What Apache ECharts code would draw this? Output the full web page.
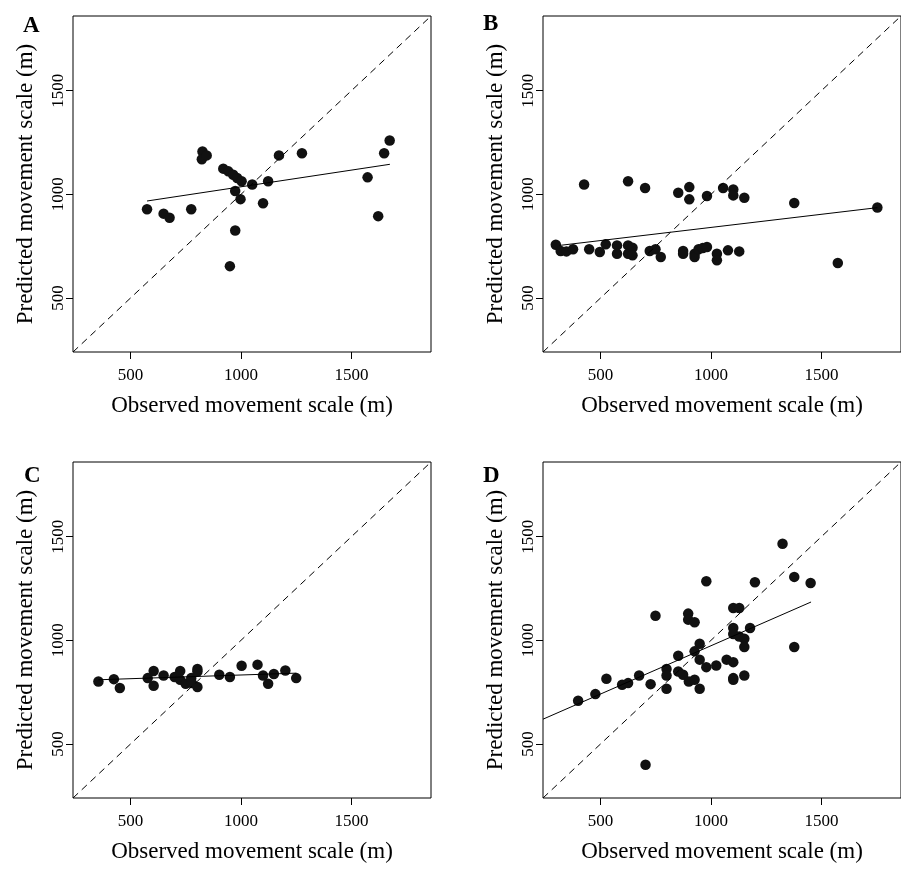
<!DOCTYPE html>
<html>
<head>
<meta charset="utf-8">
<script src="https://cdn.jsdelivr.net/npm/echarts@6/dist/echarts.min.js"></script>
<style>
  html, body { margin: 0; padding: 0; background: #fff; }
  #chart { width: 901px; height: 869px; }
</style>
</head>
<body>
<div id="chart"></div>
<script>
// axis range and ticks (R style, 4% padding around 300..1800)
const axisMin = 240
const axisMax = 1860
const tickValues = [500, 1000, 1500]
const oneToOne = [axisMin, axisMax]

// panel A
const obsA = [575, 650, 677, 775, 826, 823, 845, 920, 943, 965, 983, 1003, 974, 998, 974, 950, 1051, 1100, 1123, 1172, 1276, 1573, 1621, 1648, 1673]
const predA = [928, 907, 887, 928, 1207, 1169, 1188, 1124, 1111, 1095, 1079, 1063, 1016, 977, 826, 654, 1048, 957, 1063, 1188, 1198, 1082, 895, 1198, 1260]
const fitXA = [575, 1674]
const fitYA = [968, 1145]

// panel B
const obsB = [298, 320, 346, 376, 426, 449, 497, 524, 575, 575, 625, 625, 625, 645, 645, 702, 723, 749, 773, 852, 874, 874, 902, 902, 926, 926, 944, 963, 982, 982, 1027, 1027, 1055, 1077, 1101, 1101, 1151, 1128, 1377, 1574, 1753]
const predB = [757, 727, 725, 735, 1048, 735, 722, 759, 754, 714, 1063, 754, 714, 743, 706, 1031, 727, 735, 698, 1008, 727, 714, 1035, 976, 714, 698, 735, 741, 746, 992, 714, 682, 1031, 730, 1024, 995, 984, 725, 958, 669, 937]
const fitXB = [316, 1753]
const fitYB = [754, 936]

// panel C
const obsC = [355, 425, 452, 578, 605, 605, 650, 700, 725, 725, 750, 775, 778, 803, 803, 803, 902, 950, 1003, 1075, 1100, 1123, 1149, 1201, 1250]
const predC = [802, 813, 770, 818, 852, 781, 831, 823, 852, 810, 791, 818, 794, 862, 775, 850, 834, 823, 878, 883, 831, 791, 838, 855, 818]
const fitXC = [355, 1250]
const fitYC = [810, 842]

// panel D
const obsD = [399, 477, 527, 598, 625, 675, 704, 727, 749, 799, 799, 799, 852, 852, 874, 897, 897, 900, 926, 926, 926, 949, 949, 949, 979, 979, 1024, 1071, 1101, 1101, 1101, 1101, 1101, 1101, 1128, 1128, 1151, 1151, 1151, 1177, 1199, 1324, 1377, 1377, 1451]
const predD = [709, 741, 815, 786, 794, 831, 400, 789, 1119, 862, 831, 767, 926, 850, 834, 1129, 1100, 802, 1087, 947, 810, 984, 907, 767, 1285, 871, 879, 907, 1156, 1060, 1031, 895, 818, 810, 1156, 1019, 1008, 968, 831, 1060, 1280, 1466, 1306, 968, 1277]
const fitXD = [240, 1453]
const fitYD = [620, 1185]

const panels = [
  { letter: 'A', left: 73, top: 16, letterX: 18, letterY: 10, x: obsA, y: predA, fx: fitXA, fy: fitYA },
  { letter: 'B', left: 543, top: 16, letterX: 478, letterY: 8, x: obsB, y: predB, fx: fitXB, fy: fitYB },
  { letter: 'C', left: 73, top: 462, letterX: 19, letterY: 460, x: obsC, y: predC, fx: fitXC, fy: fitYC },
  { letter: 'D', left: 543, top: 462, letterX: 478, letterY: 460, x: obsD, y: predD, fx: fitXD, fy: fitYD }
]

const font = 'Liberation Serif'
const chart = echarts.init(document.getElementById('chart'), null, { renderer: 'canvas' })

const option = {
  backgroundColor: '#fff',
  animation: false,
  title: [],
  grid: [],
  xAxis: [],
  yAxis: [],
  series: []
}

panels.forEach((p, i) => {
  option.title.push({
    text: p.letter,
    left: p.letterX,
    top: p.letterY,
    textStyle: { fontFamily: font, fontWeight: 'bold', fontSize: 23, color: '#000' }
  })
  option.grid.push({
    left: p.left,
    top: p.top,
    width: 358,
    height: 336,
    show: true,
    borderColor: '#000',
    borderWidth: 1,
    backgroundColor: 'transparent'
  })
  const axisCommon = {
    gridIndex: i,
    type: 'value',
    min: axisMin,
    max: axisMax,
    nameLocation: 'middle',
    nameTextStyle: { fontFamily: font, fontSize: 23, color: '#000' },
    axisLine: { show: false },
    splitLine: { show: false },
    axisTick: { show: true, inside: false, length: 7, customValues: tickValues, lineStyle: { color: '#000', width: 1 } }
  }
  const labelCommon = {
    customValues: tickValues,
    fontFamily: font,
    fontSize: 17,
    color: '#000',
    formatter: v => String(v)
  }
  option.xAxis.push(Object.assign({}, axisCommon, {
    name: 'Observed movement scale (m)',
    nameGap: 42,
    axisLabel: Object.assign({}, labelCommon, { margin: 15 })
  }))
  option.yAxis.push(Object.assign({}, axisCommon, {
    name: 'Predicted movement scale (m)',
    nameGap: 36,
    axisLabel: Object.assign({}, labelCommon, { rotate: 90, margin: 6 })
  }))
  // 1:1 dashed line
  option.series.push({
    type: 'line',
    xAxisIndex: i,
    yAxisIndex: i,
    data: oneToOne.map(v => [v, v]),
    symbol: 'none',
    silent: true,
    lineStyle: { color: '#000', width: 1, type: [7, 5] }
  })
  // fitted regression line
  option.series.push({
    type: 'line',
    xAxisIndex: i,
    yAxisIndex: i,
    data: p.fx.map((v, k) => [v, p.fy[k]]),
    symbol: 'none',
    silent: true,
    lineStyle: { color: '#000', width: 1 }
  })
  option.series.push({
    type: 'scatter',
    xAxisIndex: i,
    yAxisIndex: i,
    data: p.x.map((v, k) => [v, p.y[k]]),
    symbol: 'circle',
    symbolSize: 10.5,
    itemStyle: { color: '#111', opacity: 1 }
  })
})

chart.setOption(option)
</script>
</body>
</html>
